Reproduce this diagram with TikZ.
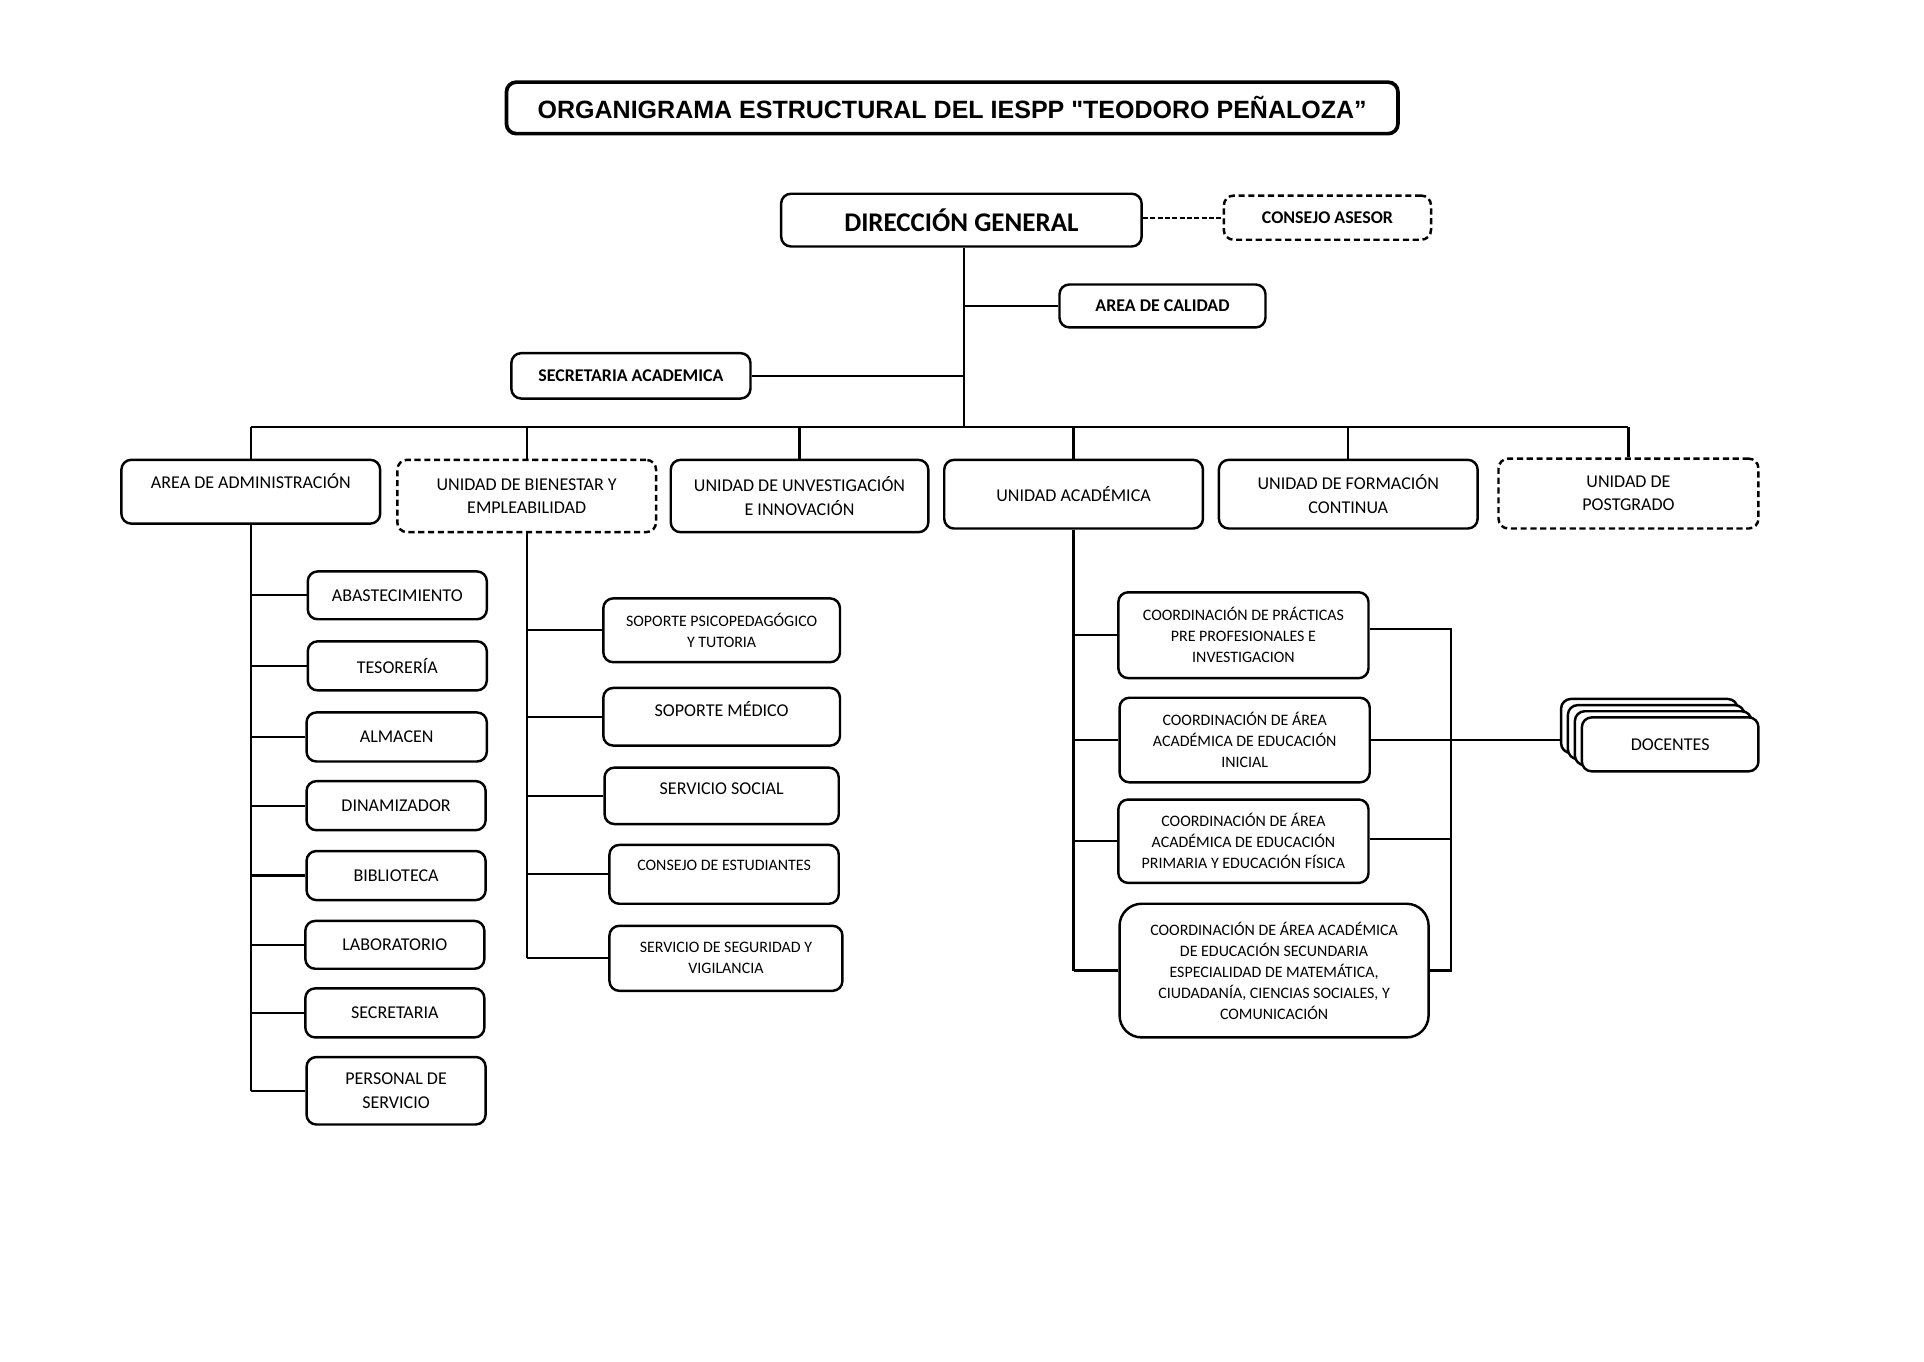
\documentclass[tikz,border=0pt]{standalone}
\usepackage{fontspec}
\setmainfont{Carlito}
\newfontfamily\arialf{Liberation Sans}
\newcommand\fReg{\fontsize{14.7}{19}\selectfont}
\newcommand\fSm{\fontsize{13}{17.2}\selectfont}
\newcommand\fBold{\fontsize{14.6}{18}\selectfont\bfseries}
\begin{document}
\begin{tikzpicture}[x=1pt,y=-1pt,
  box/.style={draw, line width=2pt, rounded corners=8pt, align=center, inner sep=0pt, fill=white, font=\fReg},
  smallbox/.style={box, font=\fSm},
  dashedge/.style={dash pattern=on 5pt off 3pt},
  boldbox/.style={box, font=\fBold},
  conn/.style={line width=1.8pt},
  sz/.style 2 args={minimum width=#1pt, minimum height=#2pt},
  up/.style={text depth=#1pt}
]
\useasboundingbox (0,0) rectangle (1569,1110);

% title
\node[draw, line width=3pt, rounded corners=8pt, sz={727}{42}, inner sep=0pt,
      font=\arialf\bfseries\fontsize{20.4}{24}\selectfont] (title) at (776.5,88)
  {ORGANIGRAMA ESTRUCTURAL DEL IESPP "TEODORO PEÑALOZA”};

% top level
\node[box, sz={294}{43}, font=\fontsize{22}{26}\selectfont\bfseries] (dg) at (784,179.5) {DIRECCIÓN GENERAL};
\node[boldbox, dashedge, sz={169}{36}] (cons) at (1082.5,177.5) {CONSEJO ASESOR};
\node[boldbox, sz={168}{35}] (cal) at (948,249.5) {AREA DE CALIDAD};
\node[boldbox, sz={195}{37}] (secac) at (514.5,306.5) {SECRETARIA ACADEMICA};
\coordinate (bus) at (786,348);

% second level
\node[box, sz={211}{52}, anchor=north, up={17}] (adm) at (204.5,374) {AREA DE ADMINISTRACIÓN};
\node[box, dashedge, sz={211}{59}, anchor=north] (bien) at (429.5,374) {UNIDAD DE BIENESTAR Y\\EMPLEABILIDAD};
\node[box, sz={210}{59}, anchor=north] (inv) at (652,374) {UNIDAD DE UNVESTIGACIÓN\\E INNOVACIÓN};
\node[box, sz={211}{56}, anchor=north] (acad) at (875.5,374) {UNIDAD ACADÉMICA};
\node[box, sz={211}{56}, anchor=north] (form) at (1099.5,374) {UNIDAD DE FORMACIÓN\\CONTINUA};
\node[box, dashedge, sz={212}{57}, anchor=north] (post) at (1328,373) {UNIDAD DE\\POSTGRADO};

% administration children
\node[box, sz={146}{39}] (abas) at (324,485.5) {ABASTECIMIENTO};
\node[box, sz={146}{40}] (teso) at (324,543) {TESORERÍA};
\node[box, sz={147}{40}] (alma) at (323.5,601) {ALMACEN};
\node[box, sz={146}{40}] (dina) at (323,657) {DINAMIZADOR};
\node[box, sz={146}{40}] (bibl) at (323,714) {BIBLIOTECA};
\node[box, sz={146}{39}] (labo) at (322,770.5) {LABORATORIO};
\node[box, sz={146}{40}] (secr) at (322,826) {SECRETARIA};
\node[box, sz={146}{55}] (pers) at (323,889.5) {PERSONAL DE\\SERVICIO};

% bienestar children
\node[smallbox, sz={193}{52}] (psic) at (588.5,514) {SOPORTE PSICOPEDAGÓGICO\\Y TUTORIA};
\node[box, sz={193}{47}, up={13}] (medi) at (588.5,584.5) {SOPORTE MÉDICO};
\node[box, sz={191}{46}, up={12}] (soci) at (588.5,649) {SERVICIO SOCIAL};
\node[smallbox, sz={187}{48}, up={15}] (cest) at (590.5,713) {CONSEJO DE ESTUDIANTES};
\node[smallbox, sz={190}{53}] (segu) at (592,781.5) {SERVICIO DE SEGURIDAD Y\\VIGILANCIA};

% academica children
\node[smallbox, sz={204}{70}] (prac) at (1014,518) {COORDINACIÓN DE PRÁCTICAS\\PRE PROFESIONALES E\\INVESTIGACION};
\node[smallbox, sz={204}{69}] (ini) at (1015,603.5) {COORDINACIÓN DE ÁREA\\ACADÉMICA DE EDUCACIÓN\\INICIAL};
\node[smallbox, sz={204}{68}] (prim) at (1014,686) {COORDINACIÓN DE ÁREA\\ACADÉMICA DE EDUCACIÓN\\PRIMARIA Y EDUCACIÓN FÍSICA};
\node[smallbox, sz={252}{109}, rounded corners=18pt] (secu) at (1039,791.5) {COORDINACIÓN DE ÁREA ACADÉMICA\\DE EDUCACIÓN SECUNDARIA\\ESPECIALIDAD DE MATEMÁTICA,\\CIUDADANÍA, CIENCIAS SOCIALES, Y\\COMUNICACIÓN};

% docentes stack
\node[box, sz={144}{44}] (doc3) at (1345,592) {};
\node[box, sz={144}{44}] (doc2) at (1350.6,597) {};
\node[box, sz={144}{44}] (doc1) at (1356.3,602) {};
\node[box, sz={144}{44}] (doce) at (1362,607) {DOCENTES};
\coordinate (rb) at (1183,513);
\coordinate (pe) at ([yshift=2pt]prim.east);

% connectors top
\draw[conn, dash pattern=on 4pt off 2pt] (cons.west -| dg.east) -- (cons.west);
\draw[conn] (dg.south -| bus) -- (bus);
\draw[conn] (bus |- cal.west) -- (cal.west);
\draw[conn] (secac.east) -- (bus |- secac.east);
\draw[conn] (adm.north |- bus) -- (post.north |- bus);
\foreach \n in {adm,bien,inv,acad,form,post}
  \draw[conn] (\n.north |- bus) -- (\n.north);

% admin branch
\draw[conn] (adm.south) -- (adm.south |- pers.west);
\foreach \n in {abas,teso,alma,dina,bibl,labo,secr,pers}
  \draw[conn] (adm.south |- \n.west) -- (\n.west);

% bienestar branch
\draw[conn] (bien.south) -- (bien.south |- segu.west);
\foreach \n in {psic,medi,soci,cest,segu}
  \draw[conn] (bien.south |- \n.west) -- (\n.west);

% academica branch
\draw[conn] (acad.south) -- (acad.south |- secu.west);
\foreach \n in {prac,ini,prim,secu}
  \draw[conn] (acad.south |- \n.west) -- (\n.west);

% right bracket to docentes
\draw[conn] (prac.east |- rb) -- (rb) -- (rb |- secu.east) -- (secu.east);
\draw[conn] (ini.east) -- (ini.east -| doc3.west);
\draw[conn] (pe) -- (rb |- pe);
\end{tikzpicture}
\end{document}
